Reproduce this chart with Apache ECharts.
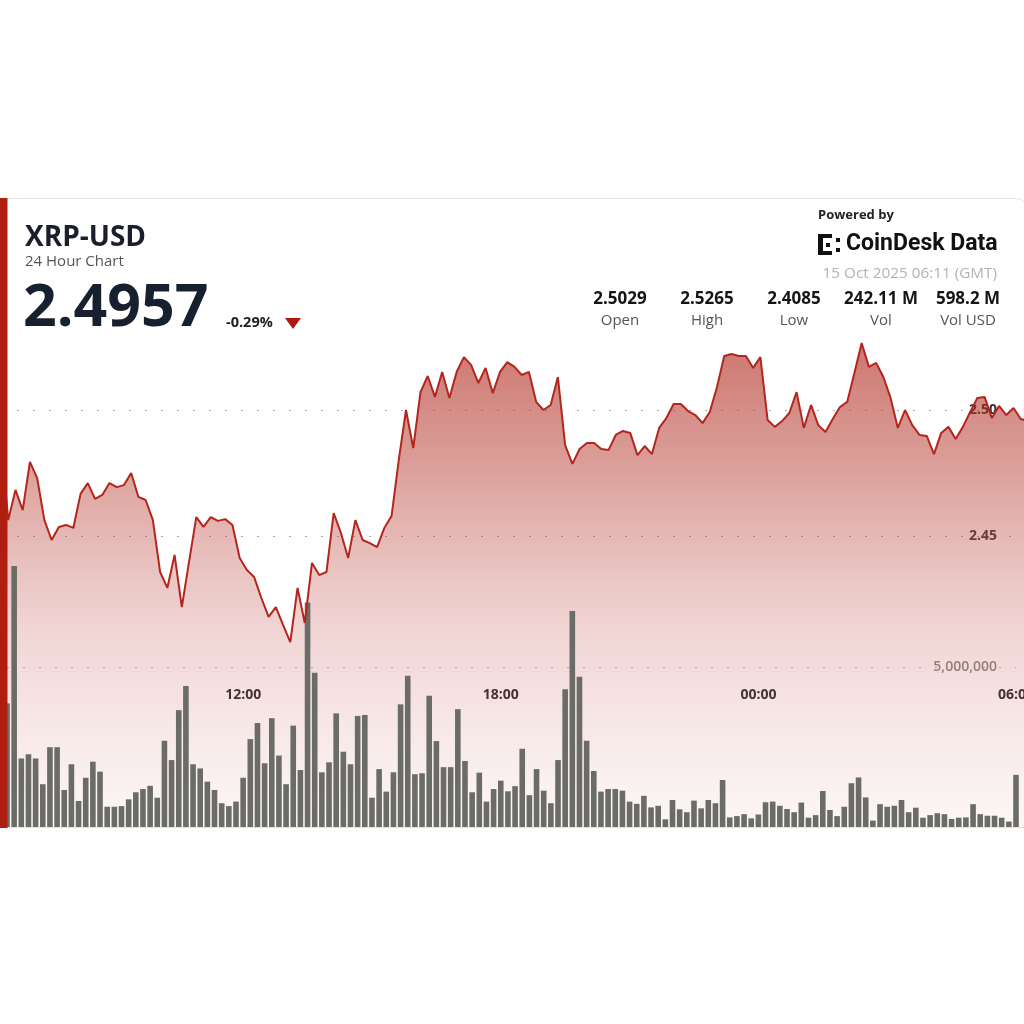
<!DOCTYPE html>
<html>
<head>
<meta charset="utf-8">
<title>XRP-USD 24 Hour Chart</title>
<script src="https://cdn.jsdelivr.net/npm/echarts@6/dist/echarts.min.js"></script>
<style>
  html, body { margin: 0; padding: 0; background: #fff; }
  #chart { width: 1024px; height: 1024px; }
</style>
</head>
<body>
<div id="chart"></div>
<script>
// 10 minute closes, 06:20 -> 06:10 next day
const prices = [
  2.4880,
  2.4563, 2.4683, 2.4603, 2.4794, 2.4730, 2.4563, 2.4484, 2.4536, 2.4544, 2.4532,
  2.4667, 2.4710, 2.4647, 2.4663, 2.4710, 2.4694, 2.4702, 2.4750, 2.4655, 2.4643,
  2.4563, 2.4357, 2.4294, 2.4425, 2.4218, 2.4397, 2.4575, 2.4536, 2.4575, 2.4560,
  2.4567, 2.4544, 2.4413, 2.4365, 2.4337, 2.4254, 2.4179, 2.4218, 2.4147, 2.4079,
  2.4294, 2.4155, 2.4393, 2.4345, 2.4357, 2.4591, 2.4512, 2.4413, 2.4563, 2.4484,
  2.4472, 2.4456, 2.4532, 2.4579, 2.4802, 2.5000, 2.4849, 2.5071, 2.5135, 2.5052,
  2.5151, 2.5048, 2.5151, 2.5210, 2.5179, 2.5107, 2.5167, 2.5067, 2.5151, 2.5190,
  2.5171, 2.5139, 2.5151, 2.5032, 2.5000, 2.5020, 2.5131, 2.4861, 2.4786, 2.4845,
  2.4869, 2.4869, 2.4845, 2.4841, 2.4901, 2.4917, 2.4909, 2.4821, 2.4857, 2.4825,
  2.4929, 2.4968, 2.5024, 2.5024, 2.4996, 2.4980, 2.4948, 2.4992, 2.5091, 2.5214,
  2.5222, 2.5214, 2.5214, 2.5167, 2.5210, 2.4960, 2.4933, 2.4956, 2.4988, 2.5071,
  2.4929, 2.5020, 2.4940, 2.4913, 2.4964, 2.5012, 2.5032, 2.5147, 2.5266, 2.5171,
  2.5187, 2.5131, 2.5048, 2.4929, 2.5000, 2.4940, 2.4901, 2.4897, 2.4825, 2.4909,
  2.4933, 2.4885, 2.4933, 2.4992, 2.5048, 2.5052, 2.4968, 2.5016, 2.4980, 2.5008,
  2.4964,
  2.4957
]

// 10 minute volume (millions), 06:30 -> 06:00 next day
const volumesM = [
  3.87, 8.14, 2.16, 2.29, 2.16, 1.36, 2.51, 2.51, 1.18, 1.98,
  0.84, 1.56, 2.06, 1.75, 0.66, 0.66, 0.68, 0.89, 1.11, 1.21,
  1.31, 0.94, 2.71, 2.11, 3.66, 4.41, 1.98, 1.85, 1.44, 1.18,
  0.77, 0.68, 0.82, 1.56, 2.76, 3.26, 2.01, 3.41, 2.25, 1.36,
  3.18, 1.80, 7.00, 4.82, 1.73, 2.04, 3.56, 2.37, 1.98, 3.48,
  3.51, 0.94, 1.83, 1.13, 1.73, 3.84, 4.73, 1.67, 1.70, 4.11,
  2.70, 1.89, 1.89, 3.69, 2.08, 1.11, 1.72, 0.82, 1.21, 1.47,
  1.14, 1.30, 2.46, 1.02, 1.83, 1.16, 0.77, 2.11, 4.31, 6.74,
  4.70, 2.71, 1.77, 1.13, 1.21, 1.21, 1.16, 0.82, 0.75, 1.00,
  0.64, 0.69, 0.27, 0.87, 0.58, 0.49, 0.85, 0.61, 0.87, 0.77,
  1.49, 0.33, 0.37, 0.43, 0.30, 0.42, 0.80, 0.82, 0.69, 0.59,
  0.49, 0.79, 0.32, 0.40, 1.15, 0.56, 0.37, 0.66, 1.39, 1.57,
  0.95, 0.23, 0.74, 0.66, 0.69, 0.87, 0.49, 0.63, 0.32, 0.40,
  0.46, 0.43, 0.28, 0.32, 0.33, 0.74, 0.43, 0.38, 0.38, 0.32,
  0.20, 1.65
]

const timeLabels = ['12:00', '18:00', '00:00', '06:00']
const priceTicks = ['2.45', '2.50']
const volumeTicks = ['5,000,000']

const statValues = ['2.5029', '2.5265', '2.4085', '242.11 M', '598.2 M']
const statNames = ['Open', 'High', 'Low', 'Vol', 'Vol USD']

const pad = (n) => (n < 10 ? '0' : '') + n
// 10 minute slot names starting at h:m
const slots = (h, m, n) => {
  const out = []
  for (let i = 0; i < n; i++) {
    const t = (h * 60 + m + i * 10) % 1440
    out.push(pad(Math.floor(t / 60)) + ':' + pad(t % 60))
  }
  return out
}
const priceTimes = slots(6, 20, prices.length)
const volumeTimes = slots(6, 30, volumesM.length)

const FONT = '"Open Sans", "Noto Sans", sans-serif'
const RED = '#b3261e'

const chart = echarts.init(document.getElementById('chart'))

const statGraphics = []
const statX = [620, 707, 794, 881, 968]
statValues.forEach((v, i) => {
  statGraphics.push({
    type: 'text', x: statX[i], y: 299, z: 110,
    style: { text: v, font: 'bold 17px ' + FONT, fill: '#151515', align: 'center', verticalAlign: 'middle' }
  })
  statGraphics.push({
    type: 'text', x: statX[i], y: 321, z: 110,
    style: { text: statNames[i], font: '15px ' + FONT, fill: '#555', align: 'center', verticalAlign: 'middle' }
  })
})

const logoBits = [
  [818, 234, 5, 21], [818, 234, 14, 4], [818, 251, 14, 4],
  [826, 243, 4, 4], [836, 238, 4, 4], [836, 248, 4, 4], [828, 234, 4, 4]
].map(([x, y, w, h]) => ({
  type: 'rect', z: 110, shape: { x, y, width: w, height: h }, style: { fill: '#111' }
}))

chart.setOption({
  animation: false,
  backgroundColor: '#fff',
  grid: [
    { left: 1, right: -4, top: 284, bottom: 110, outerBoundsMode: 'none', containLabel: false },
    { left: 7, right: 8, top: 345, bottom: 196, outerBoundsMode: 'none', containLabel: false }
  ],
  xAxis: [
    {
      type: 'category', gridIndex: 0, data: priceTimes, boundaryGap: false,
      axisLine: { show: false }, axisTick: { show: false }, axisLabel: { show: false },
      splitLine: { show: false }
    },
    {
      type: 'category', gridIndex: 1, data: volumeTimes, boundaryGap: false,
      axisLine: { show: false }, axisTick: { show: false }, splitLine: { show: false },
      axisLabel: {
        inside: true,
        margin: 126,
        interval: (i, v) => timeLabels.includes(v),
        color: '#222',
        fontWeight: 'bold',
        fontSize: 14,
        fontFamily: FONT
      }
    }
  ],
  yAxis: [
    {
      type: 'value', gridIndex: 0, position: 'right', min: 2.30, max: 2.55, interval: 0.05,
      axisLine: { show: false }, axisTick: { show: false },
      splitLine: {
        lineStyle: {
          type: [2, 14], width: 1,
          color: ['transparent', 'transparent', 'transparent', '#a9a9a9', '#a9a9a9', 'transparent']
        }
      },
      axisLabel: {
        inside: true, margin: 31,
        formatter: (v) => (priceTicks.includes(v.toFixed(2)) ? v.toFixed(2) : ''),
        color: '#333', fontWeight: 'bold', fontSize: 14, fontFamily: FONT
      }
    },
    {
      type: 'value', gridIndex: 1, position: 'right', min: 0, max: 15000000, interval: 5000000,
      axisLine: { show: false }, axisTick: { show: false },
      splitLine: {
        lineStyle: {
          type: [2, 14], width: 1,
          color: ['transparent', '#a9a9a9', 'transparent', 'transparent']
        }
      },
      axisLabel: {
        inside: true, margin: 19,
        formatter: (v) => {
          const s = v.toLocaleString('en-US')
          return volumeTicks.includes(s) ? s : ''
        },
        color: '#8a8282', fontWeight: 600, fontSize: 14, fontFamily: FONT
      }
    }
  ],
  series: [
    {
      name: 'area',
      type: 'line',
      xAxisIndex: 0,
      yAxisIndex: 0,
      data: prices,
      symbol: 'none',
      z: 1,
      lineStyle: { width: 0 },
      areaStyle: {
        color: new echarts.graphic.LinearGradient(0, 340, 0, 828, [
          { offset: 0, color: 'rgba(174,38,26,0.9)' },
          { offset: 0.25, color: 'rgba(182,56,46,0.7)' },
          { offset: 0.6, color: 'rgba(200,100,95,0.38)' },
          { offset: 1, color: 'rgba(215,140,135,0.1)' }
        ], true)
      }
    },
    {
      name: 'volume',
      type: 'bar',
      xAxisIndex: 1,
      yAxisIndex: 1,
      data: volumesM.map((v) => v * 1000000),
      barWidth: 5.6,
      clip: false,
      z: 2,
      itemStyle: { color: '#6b6c67' }
    },
    {
      name: 'price',
      type: 'line',
      xAxisIndex: 0,
      yAxisIndex: 0,
      data: prices,
      symbol: 'none',
      z: 3,
      lineStyle: { color: RED, width: 2 }
    }
  ],
  graphic: [
    // card outline and bottom cover
    { type: 'rect', z: 100, shape: { x: 0, y: 828, width: 1024, height: 196 }, style: { fill: '#fff' } },
    {
      type: 'rect', z: 101, silent: true,
      shape: { x: -1, y: 198.5, width: 1029, height: 629, r: [0, 12, 0, 0] },
      style: { fill: 'none', stroke: '#e3e3e3', lineWidth: 1 }
    },
    { type: 'rect', z: 102, shape: { x: 0, y: 198, width: 7.5, height: 630 }, style: { fill: '#b01e12' } },
    // title block
    {
      type: 'text', x: 25, y: 238, z: 110,
      style: { text: 'XRP-USD', font: 'bold 28px ' + FONT, fill: '#1b1f2b', verticalAlign: 'middle' }
    },
    {
      type: 'text', x: 25, y: 262, z: 110,
      style: { text: '24 Hour Chart', font: '15px ' + FONT, fill: '#555', verticalAlign: 'middle' }
    },
    {
      type: 'text', x: 23, y: 309, z: 110,
      style: { text: '2.4957', font: 'bold 59px ' + FONT, fill: '#17202e', verticalAlign: 'middle' }
    },
    {
      type: 'text', x: 226, y: 323, z: 110,
      style: { text: '-0.29%', font: 'bold 14.5px ' + FONT, fill: '#222', verticalAlign: 'middle' }
    },
    {
      type: 'polygon', z: 110,
      shape: { points: [[285, 318], [301, 318], [293, 329]] },
      style: { fill: '#b0170c' }
    },
    // branding
    {
      type: 'text', x: 818, y: 215, z: 110,
      style: { text: 'Powered by', font: 'bold 13px ' + FONT, fill: '#222', verticalAlign: 'middle' }
    },
    ...logoBits,
    {
      type: 'text', x: 846, y: 244, z: 110,
      style: { text: 'CoinDesk Data', font: 'bold 23px Roboto, ' + FONT, fill: '#111', verticalAlign: 'middle' }
    },
    {
      type: 'text', x: 997, y: 274, z: 110,
      style: { text: '15 Oct 2025 06:11 (GMT)', font: '15.3px ' + FONT, fill: '#b3b3b3', align: 'right', verticalAlign: 'middle' }
    },
    ...statGraphics
  ]
})
</script>
</body>
</html>
